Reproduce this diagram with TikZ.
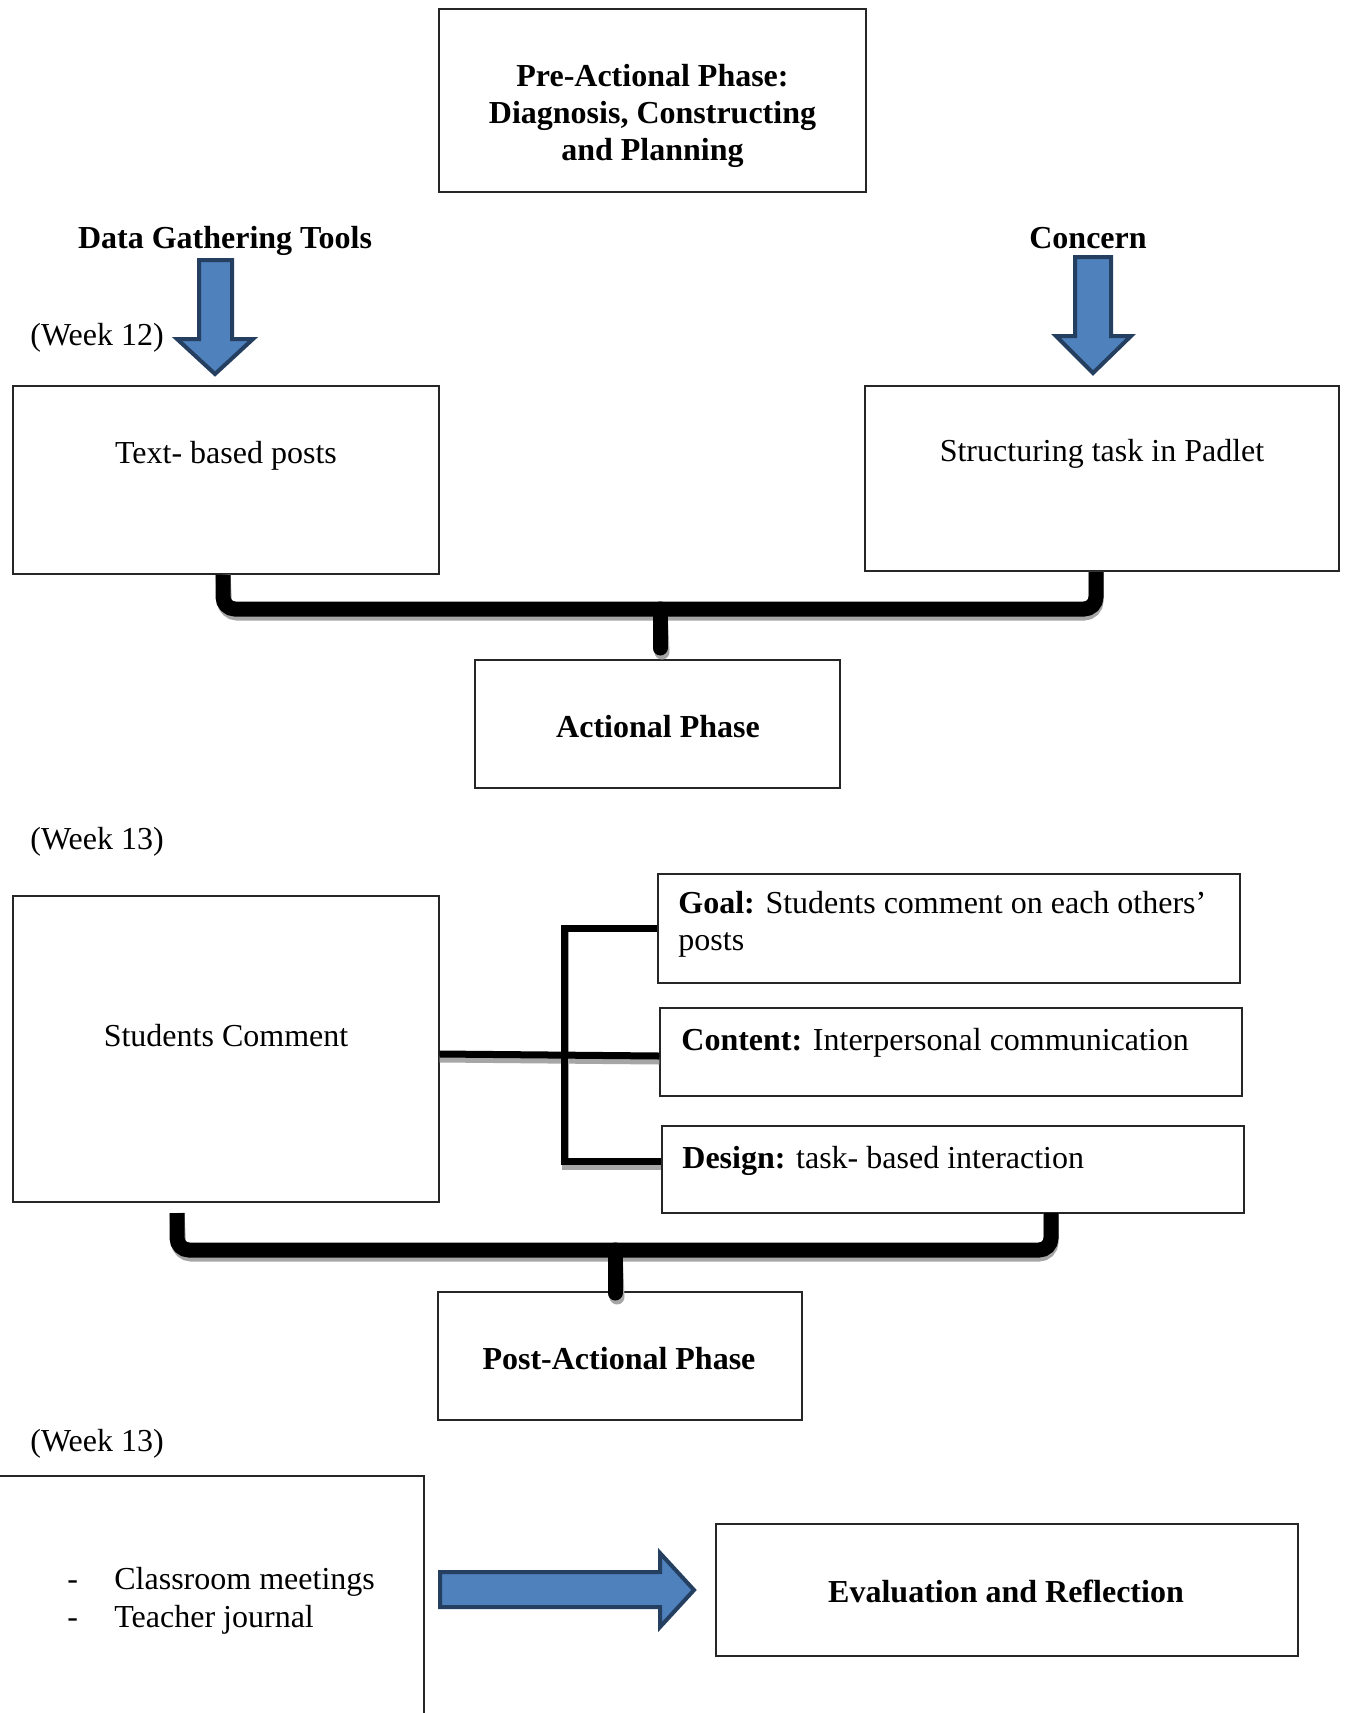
\documentclass[tikz,border=0pt]{standalone}
\usepackage{fontspec}
\setmainfont{Liberation Serif}
\usetikzlibrary{fit}
\definecolor{arrowfill}{HTML}{4F81BD}
\definecolor{arrowedge}{HTML}{243F60}
\definecolor{shade}{HTML}{A6A6A6}

\begin{document}
\begin{tikzpicture}[x=0.5pt,y=-0.5pt,
  box/.style={draw=black!85, line width=0.7pt, fill=white, inner sep=0pt},
  txt/.style={font=\fontsize{16}{18.5}\selectfont, inner sep=0pt},
  bold/.style={font=\fontsize{16}{18.5}\selectfont\bfseries, inner sep=0pt},
  blockarrow/.style={fill=arrowfill, draw=arrowedge, line width=2pt, line join=miter},
  brace/.style={line width=7.5pt, rounded corners=6pt},
  braceshade/.style={brace, draw=shade, shift={(2,4)}},
  branch/.style={line width=3.5pt},
  branchshade/.style={branch, draw=shade, shift={(1.5,5)}},
]
\clip (0,0) rectangle (1346,1713);
\fill[white] (0,0) rectangle (1346,1713);

% ---- pre-actional phase ----
\node[box, fit={(439,9) (866,192)}] (pre) {};
\node[bold, anchor=base] (pretext) at (652.5,86)
  {\begin{tabular}[t]{@{}c@{}}Pre-Actional Phase:\\Diagnosis, Constructing\\and Planning\end{tabular}};

\node[bold, anchor=base] (dgt) at (225,248) {Data Gathering Tools};
\node[bold, anchor=base] (concern) at (1088,248) {Concern};
\node[txt, anchor=base west] (wk12) at (30,345) {(Week 12)};

\node[box, fit={(13,386) (439,574)}] (tbp) {};
\node[txt, anchor=base] (tbptext) at (226,463) {Text- based posts};
\node[box, fit={(865,386) (1339,571)}] (stp) {};
\node[txt, anchor=base] (stptext) at (1102,461) {Structuring task in Padlet};

% block arrows pointing down onto the two boxes
\draw[blockarrow] (199,260) -- (232,260) -- (232,339) -- (253,339) -- (215,374)
  -- (177,339) -- (199,339) -- cycle;
\draw[blockarrow] (1075,257) -- (1111,257) -- (1111,336) -- (1131,336) -- (1093,373)
  -- (1056,336) -- (1075,336) -- cycle;

% ---- actional phase ----
\node[box, fit={(475,660) (840,788)}] (act) {};
\node[bold, anchor=base] (acttext) at (658,737) {Actional Phase};

\coordinate (j1) at (660,609);
\draw[braceshade] ([xshift=-1.5pt]tbp.south) -- (223,609) -| ([xshift=-3pt]stp.south);
\draw[braceshade, line cap=round] (j1) -- (660,648);
\draw[brace] ([xshift=-1.5pt]tbp.south) -- (223,609) -| ([xshift=-3pt]stp.south);
\draw[brace, line cap=round] (j1) -- (660,648);

\node[txt, anchor=base west] (wk13a) at (30,849) {(Week 13)};

\node[box, fit={(13,896) (439,1202)}] (scom) {};
\node[txt, anchor=base] (scomtext) at (226,1046) {Students Comment};

\node[box, fit={(658,874) (1240,983)}] (goal) {};
\node[txt, anchor=base west] (goaltext) at (678,913)
  {\begin{tabular}[t]{@{}l@{}}\textbf{Goal:} Students comment on each others’\\posts\end{tabular}};
\node[box, fit={(660,1008) (1242,1096)}] (content) {};
\node[txt, anchor=base west] (contenttext) at (681,1050)
  {\textbf{Content:} Interpersonal communication};
\node[box, fit={(662,1126) (1244,1213)}] (design) {};
\node[txt, anchor=base west] (designtext) at (682,1168)
  {\textbf{Design:} task- based interaction};

% branching connector
\draw[branchshade] (goal.west) -| (564,1161) -- (design.west |- 0,1161);
\draw[branchshade] (scom.east |- 0,1054) -- (content.west |- 0,1056);
\draw[branch] (goal.west) -| (564,1161) -- (design.west |- 0,1161);
\draw[branch] (scom.east |- 0,1054) -- (content.west |- 0,1056);

% ---- post-actional phase ----
\node[box, fit={(438,1292) (802,1420)}] (post) {};
\node[bold, anchor=base] (posttext) at (619,1369) {Post-Actional Phase};

\coordinate (b2l) at (177,1213);
\coordinate (b2r) at (1051,1213);
\coordinate (j2) at (615,1250);
\draw[braceshade] (b2l) -- (177,1250) -| (b2r);
\draw[braceshade, line cap=round] (j2) -- (615,1293);
\draw[brace] (b2l) -- (177,1250) -| (b2r);
\draw[brace, line cap=round] (j2) -- (615,1293);

\node[txt, anchor=base west] (wk13b) at (30,1451) {(Week 13)};

\node[box, fit={(-10,1476) (424,1740)}] (meet) {};
\node[txt, anchor=base west] (dash1) at (67,1589) {-};
\node[txt, anchor=base west] (item1) at (114,1589) {Classroom meetings};
\node[txt, anchor=base west] (dash2) at (67,1627) {-};
\node[txt, anchor=base west] (item2) at (114,1627) {Teacher journal};

\node[box, fit={(716,1524) (1298,1656)}] (eval) {};
\node[bold, anchor=base] (evaltext) at (1006,1602) {Evaluation and Reflection};

% block arrow towards the evaluation box
\draw[blockarrow] (440,1572) -- (660,1572) -- (660,1553) -- (694,1590) -- (660,1627)
  -- (660,1607) -- (440,1607) -- cycle;
\end{tikzpicture}
\end{document}
